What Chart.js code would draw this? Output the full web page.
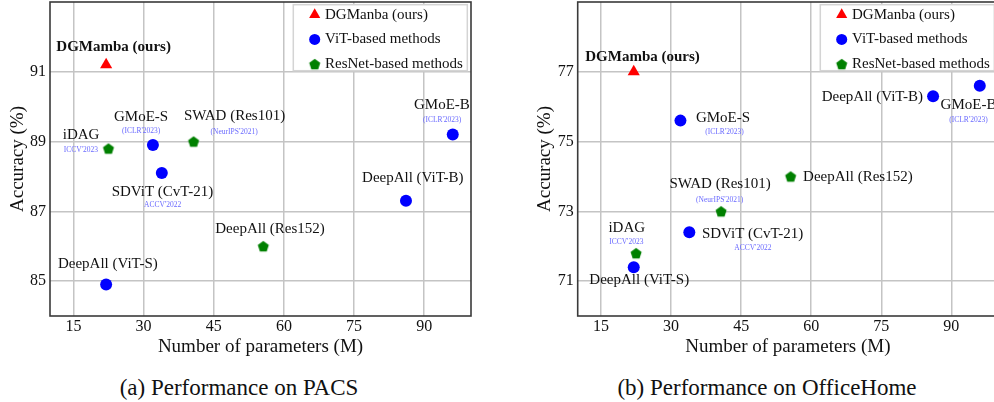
<!DOCTYPE html>
<html>
<head>
<meta charset="utf-8">
<script src="https://cdn.jsdelivr.net/npm/chart.js"></script>
<style>
body { margin: 0; width: 994px; height: 402px; overflow: hidden; background: #fff; position: relative; font-family: "Liberation Serif", serif; }
.panel { position: absolute; top: 0; }
.caption { position: absolute; top: 374px; width: 400px; font-family: "Liberation Serif", serif; font-size: 23px; line-height: 28px; text-align: center; color: #111; }
</style>
</head>
<body>
<canvas id="pacs" class="panel" style="left:0" width="497" height="360"></canvas>
<canvas id="office" class="panel" style="left:497px" width="505" height="360"></canvas>
<div class="caption" style="left:39px">(a) Performance on PACS</div>
<div class="caption" style="left:567px">(b) Performance on OfficeHome</div>
<script>
// ticks
const xTicks = [15, 30, 45, 60, 75, 90];
const pacsTicks = [85, 87, 89, 91];
const officeTicks = [71, 73, 75, 77];

// models (same parameter counts in both panels)
const oursNames = ['DGMamba (ours)'];
const oursParams = [22];
const vitNames = ['GMoE-S', 'SDViT (CvT-21)', 'DeepAll (ViT-B)', 'GMoE-B', 'DeepAll (ViT-S)'];
const vitVenues = ["(ICLR'2023)", "ACCV'2022", '', "(ICLR'2023)", ''];
const vitParams = [32, 33.9, 86.1, 96.1, 22];
const resNames = ['iDAG', 'SWAD (Res101)', 'DeepAll (Res152)'];
const resVenues = ["ICCV'2023", "(NeurIPS'2021)", ''];
const resParams = [22.5, 40.7, 55.6];

// accuracy (%)
const pacsOurs = [91.2];
const pacsVit = [88.9, 88.1, 87.3, 89.2, 84.9];
const pacsRes = [88.8, 89.0, 86.0];
const officeOurs = [77.0];
const officeVit = [75.6, 72.4, 76.3, 76.6, 71.4];
const officeRes = [71.8, 73.0, 74.0];

const FONT = '"Liberation Serif", serif';

// label offsets in px from the marker: [name dx, name dy, venue dx, venue dy]
const pacsOffsets = {
    ours: [[7.5, -18]],
    vit: [[-11.8, -28, -11.8, -13.6], [0.6, 18.7, 0.8, 32.3], [6.8, -23.3], [-10.8, -29.7, -10.6, -14.3], [1.7, -21]],
    res: [[-27.4, -13.7, -27.7, 1.6], [40.9, -25.4, 40.5, -10], [6.7, -17.3]]
};
const officeOffsets = {
    ours: [[8.8, -15]],
    vit: [[42.6, -2.7, 44, 11.7], [63.3, 2, 63.5, 16], [-60.7, 0.6], [-11.3, 19.7, -11.3, 34.4], [5.5, 13.3]],
    res: [[-9.3, -25, -9.8, -11], [-1, -27, -1.5, -11.6], [67.2, 0.6]]
};

function makePentagon(r, color) {
    const c = document.createElement('canvas');
    const s = Math.ceil(r * 2) + 2;
    c.width = s; c.height = s;
    const g = c.getContext('2d');
    g.fillStyle = color;
    g.beginPath();
    for (let i = 0; i < 5; i++) {
        const a = -Math.PI / 2 + i * 2 * Math.PI / 5;
        const px = s / 2 + r * Math.cos(a), py = s / 2 + 0.6 + r * Math.sin(a);
        if (i === 0) g.moveTo(px, py); else g.lineTo(px, py);
    }
    g.closePath();
    g.fill();
    return c;
}
const pentagon = makePentagon(5.8, '#008000');

function pts(xs, ys) {
    return xs.map((x, i) => ({x: x, y: ys[i]}));
}

const framePlugin = {
    id: 'frame',
    afterDraw(chart) {
        const a = chart.chartArea, ctx = chart.ctx;
        ctx.save();
        ctx.strokeStyle = '#3a3a3a';
        ctx.lineWidth = 1.6;
        ctx.strokeRect(a.left, a.top, a.right - a.left, a.bottom - a.top);
        ctx.restore();
    }
};

const labelPlugin = {
    id: 'pointLabels',
    afterDatasetsDraw(chart) {
        const ctx = chart.ctx;
        ctx.save();
        ctx.textAlign = 'center';
        ctx.textBaseline = 'middle';
        chart.data.datasets.forEach(function(ds, i) {
            const meta = chart.getDatasetMeta(i);
            meta.data.forEach(function(el, j) {
                const o = ds.offsets[j];
                ctx.fillStyle = '#111';
                ctx.font = (ds.bold ? 'bold ' : '') + '15px ' + FONT;
                ctx.fillText(ds.names[j], el.x + o[0], el.y + o[1]);
                if (ds.venues && ds.venues[j]) {
                    ctx.fillStyle = '#6a6aff';
                    ctx.font = '7.5px ' + FONT;
                    ctx.fillText(ds.venues[j], el.x + o[2], el.y + o[3]);
                }
            });
        });
        ctx.restore();
    }
};

const boxLegend = {
    id: 'boxLegend',
    afterDraw(chart) {
        const a = chart.chartArea, ctx = chart.ctx;
        const w = 174, h = 66;
        const left = a.right - 3.7 - w, top = a.top + 2.7;
        ctx.save();
        ctx.fillStyle = '#fff';
        ctx.fillRect(left, top, w, h);
        ctx.strokeStyle = '#d4d4d4';
        ctx.lineWidth = 1.5;
        ctx.strokeRect(left, top, w, h);
        ctx.font = '15px ' + FONT;
        ctx.textBaseline = 'middle';
        ctx.textAlign = 'left';
        chart.data.datasets.forEach(function(ds, i) {
            const y = top + 10 + i * 24.7;
            ctx.fillStyle = ds.backgroundColor;
            ctx.strokeStyle = ds.backgroundColor;
            Chart.helpers.drawPoint(ctx, {pointStyle: ds.pointStyle, radius: ds.pointRadius * 0.92, borderWidth: 0, rotation: 0}, left + 21.4, y);
            ctx.fillStyle = '#111';
            ctx.fillText(ds.label, left + 31.7, y);
        });
        ctx.restore();
    }
};

function makeChart(id, ours, vit, res, yMin, yMax, yTicks, offs, pad, yWidth) {
    new Chart(document.getElementById(id), {
        type: 'scatter',
        data: {
            datasets: [{
                label: 'DGManba (ours)',
                data: pts(oursParams, ours),
                names: oursNames,
                offsets: offs.ours,
                bold: true,
                pointStyle: 'triangle',
                pointRadius: 7,
                backgroundColor: '#ff0000',
                borderColor: '#ff0000',
                borderWidth: 0
            }, {
                label: 'ViT-based methods',
                data: pts(vitParams, vit),
                names: vitNames,
                venues: vitVenues,
                offsets: offs.vit,
                pointStyle: 'circle',
                pointRadius: 6,
                backgroundColor: '#0000ff',
                borderColor: '#0000ff',
                borderWidth: 0
            }, {
                label: 'ResNet-based methods',
                data: pts(resParams, res),
                names: resNames,
                venues: resVenues,
                offsets: offs.res,
                pointStyle: pentagon,
                pointRadius: 6,
                backgroundColor: '#008000',
                borderColor: '#008000',
                borderWidth: 0
            }]
        },
        options: {
            responsive: false,
            animation: false,
            layout: {padding: pad, autoPadding: false},
            plugins: {
                legend: {display: false},
                tooltip: {enabled: false}
            },
            scales: {
                x: {
                    min: 10,
                    max: 100,
                    afterBuildTicks: s => { s.ticks = xTicks.map(v => ({value: v})); },
                    afterFit: s => { s.height = 44; s.paddingLeft = 0; s.paddingRight = 0; },
                    border: {display: false},
                    grid: {color: '#c4c4c4', lineWidth: 1.5, drawTicks: false},
                    ticks: {padding: 1, color: '#111', font: {family: FONT, size: 16}},
                    title: {display: true, text: 'Number of parameters (M)', color: '#111', padding: {top: 0, bottom: 2}, font: {family: FONT, size: 19}}
                },
                y: {
                    min: yMin,
                    max: yMax,
                    afterBuildTicks: s => { s.ticks = yTicks.map(v => ({value: v})); },
                    afterFit: s => { s.width = yWidth; s.paddingTop = 0; s.paddingBottom = 0; },
                    border: {display: false},
                    grid: {color: '#c4c4c4', lineWidth: 1.5, drawTicks: false},
                    ticks: {padding: 4, color: '#111', font: {family: FONT, size: 16}},
                    title: {display: true, text: 'Accuracy (%)', color: '#111', padding: {top: 7, bottom: 0}, font: {family: FONT, size: 19}}
                }
            }
        },
        plugins: [labelPlugin, framePlugin, boxLegend]
    });
}

makeChart('pacs', pacsOurs, pacsVit, pacsRes, 84, 93, pacsTicks, pacsOffsets, {left: 0, right: 26, top: 2, bottom: 0}, 50);
makeChart('office', officeOurs, officeVit, officeRes, 70, 79, officeTicks, officeOffsets, {left: 30, right: 4, top: 2, bottom: 0}, 50.7);
</script>
</body>
</html>
